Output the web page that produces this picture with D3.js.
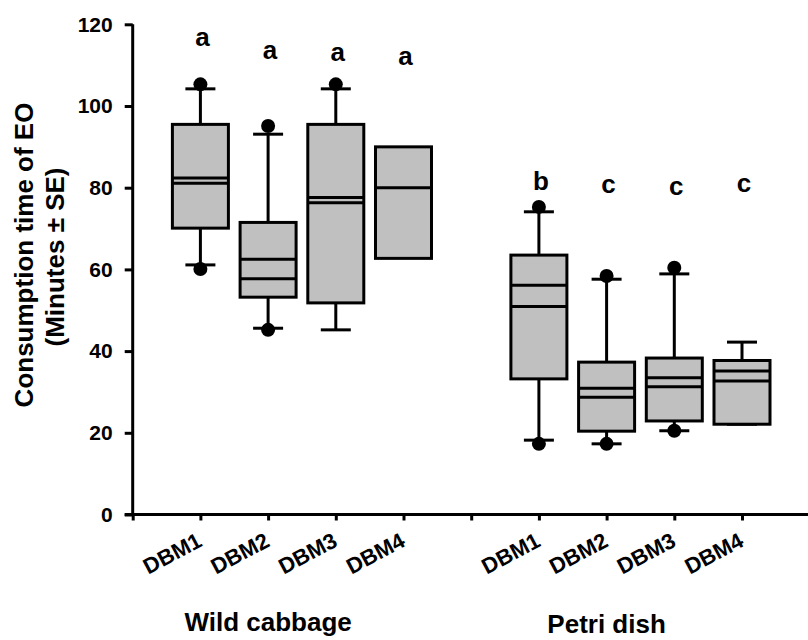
<html lang="en">
<head>
<meta charset="utf-8">
<title>Consumption time of EO</title>
<style>
  body { margin: 0; background: white; }
  svg { background: white; font-family: "Liberation Sans", Arial, sans-serif; font-weight: bold; }
  .axis path, .axis line { fill: none; stroke: black; stroke-width: 3; }
  .axis text { font-size: 21px; font-weight: bold; fill: black; }
  .box { fill: #c0c0c0; stroke: black; stroke-width: 3; }
  .line { stroke: black; stroke-width: 3; }
  .dot { fill: black; }
  .letter { font-size: 26px; text-anchor: middle; }
  .title { font-size: 26px; text-anchor: middle; }
</style>
</head>
<body>
<script src="https://cdnjs.cloudflare.com/ajax/libs/d3/7.8.5/d3.min.js"></script>
<script>
// data
var groups = ["Wild cabbage", "Petri dish"];
var strains = ["DBM1", "DBM2", "DBM3", "DBM4"];
var yTicks = [0, 20, 40, 60, 80, 100, 120];

// order: wild DBM1..4, petri DBM1..4
var q1          = [70.1, 53.2, 51.8, 62.7, 33.2, 20.4, 22.9, 22.1];
var q3          = [95.5, 71.5, 95.5, 90.0, 63.5, 37.3, 38.3, 37.7];
var median      = [82.4, 62.5, 77.6, 80.0, 56.1, 30.9, 33.5, 35.1];
var mean        = [81.1, 57.7, 76.3, null, 50.9, 28.7, 31.3, 32.7];
var whiskerLow  = [61.1, 45.6, 45.2, null, 18.2, 17.3, 20.5, 22.1];
var whiskerHigh = [104.2, 93.1, 104.2, null, 74.1, 57.6, 58.9, 42.2];
var dotLow      = [60.1, 45.2, null, null, 17.3, 17.3, 20.5, null];
var dotHigh     = [105.3, 95.1, 105.3, null, 75.3, 58.4, 60.4, null];
var letters     = ["a", "a", "a", "a", "b", "c", "c", "c"];
var letterY     = [114.7, 111.4, 111.0, 110.0, 79.4, 78.6, 78.2, 79.0];

var width = 808, height = 640;
var svg = d3.select("body").append("svg")
  .attr("width", width)
  .attr("height", height);

var x = d3.scaleLinear().domain([0, 10]).range([132.7, 809.7]);
var y = d3.scaleLinear().domain([0, 120]).range([514.5, 24.3]);

var boxW = 56, capW = 30, r = 7;

var data = q1.map(function(d, i) {
  return {
    pos: i < 4 ? i + 1 : i + 2,
    q1: d, q3: q3[i], median: median[i], mean: mean[i],
    wl: whiskerLow[i], wh: whiskerHigh[i],
    dl: dotLow[i], dh: dotHigh[i],
    letter: letters[i], ly: letterY[i]
  };
});

// axes
var yAxis = d3.axisLeft(y).tickValues(yTicks).tickSize(8).tickPadding(12);
svg.append("g")
  .attr("class", "axis")
  .attr("transform", "translate(" + x(0) + ",0)")
  .call(yAxis)
  .call(function(g) { g.select(".domain").attr("d", "M0," + y(120) + "V" + y(0)); });

var tickPos = [0, 1, 2, 3, 4, 5, 6, 7, 8, 9];
var xAxis = d3.axisBottom(x).tickValues(tickPos).tickSize(6).tickFormat("");
svg.append("g")
  .attr("class", "axis")
  .attr("transform", "translate(0," + y(0) + ")")
  .call(xAxis)
  .call(function(g) { g.select(".domain").attr("d", "M" + (x(0) - 8) + ",0H" + width); });

// rotated strain labels
svg.selectAll(".xlab")
  .data(data)
  .enter().append("text")
  .attr("class", "xlab")
  .attr("transform", function(d) { return "translate(" + (x(d.pos) + 3) + "," + (y(0) + 31) + ") rotate(-28)"; })
  .style("text-anchor", "end")
  .style("font-size", "22px")
  .text(function(d, i) { return strains[i % 4]; });

// whiskers
var g = svg.selectAll(".bp")
  .data(data)
  .enter().append("g")
  .attr("class", "bp");

g.filter(function(d) { return d.wh != null; })
  .append("line").attr("class", "line")
  .attr("x1", function(d) { return x(d.pos); })
  .attr("x2", function(d) { return x(d.pos); })
  .attr("y1", function(d) { return y(d.wh); })
  .attr("y2", function(d) { return y(d.wl); });

g.filter(function(d) { return d.wh != null; })
  .append("line").attr("class", "line")
  .attr("x1", function(d) { return x(d.pos) - capW / 2; })
  .attr("x2", function(d) { return x(d.pos) + capW / 2; })
  .attr("y1", function(d) { return y(d.wh); })
  .attr("y2", function(d) { return y(d.wh); });

g.filter(function(d) { return d.wl != null; })
  .append("line").attr("class", "line")
  .attr("x1", function(d) { return x(d.pos) - capW / 2; })
  .attr("x2", function(d) { return x(d.pos) + capW / 2; })
  .attr("y1", function(d) { return y(d.wl); })
  .attr("y2", function(d) { return y(d.wl); });

// boxes
g.append("rect").attr("class", "box")
  .attr("x", function(d) { return x(d.pos) - boxW / 2; })
  .attr("width", boxW)
  .attr("y", function(d) { return y(d.q3); })
  .attr("height", function(d) { return y(d.q1) - y(d.q3); });

g.append("line").attr("class", "line")
  .attr("x1", function(d) { return x(d.pos) - boxW / 2; })
  .attr("x2", function(d) { return x(d.pos) + boxW / 2; })
  .attr("y1", function(d) { return y(d.median); })
  .attr("y2", function(d) { return y(d.median); });

g.filter(function(d) { return d.mean != null; })
  .append("line").attr("class", "line")
  .attr("x1", function(d) { return x(d.pos) - boxW / 2; })
  .attr("x2", function(d) { return x(d.pos) + boxW / 2; })
  .attr("y1", function(d) { return y(d.mean); })
  .attr("y2", function(d) { return y(d.mean); });

// outlier dots
g.filter(function(d) { return d.dh != null; })
  .append("circle").attr("class", "dot")
  .attr("cx", function(d) { return x(d.pos); })
  .attr("cy", function(d) { return y(d.dh); })
  .attr("r", r);

g.filter(function(d) { return d.dl != null; })
  .append("circle").attr("class", "dot")
  .attr("cx", function(d) { return x(d.pos); })
  .attr("cy", function(d) { return y(d.dl); })
  .attr("r", r);

// significance letters
g.append("text").attr("class", "letter")
  .attr("x", function(d) { return x(d.pos) + 2; })
  .attr("y", function(d) { return y(d.ly); })
  .text(function(d) { return d.letter; });

// group labels
svg.append("text").attr("class", "title")
  .attr("x", x(2)).attr("y", 631)
  .text(groups[0]);
svg.append("text").attr("class", "title")
  .attr("x", x(7)).attr("y", 633)
  .text(groups[1]);

// y title
svg.append("text").attr("class", "title")
  .attr("transform", "translate(33,255) rotate(-90)")
  .text("Consumption time of EO");
svg.append("text").attr("class", "title")
  .attr("transform", "translate(64,257) rotate(-90)")
  .text("(Minutes \u00b1 SE)");
</script>
</body>
</html>
